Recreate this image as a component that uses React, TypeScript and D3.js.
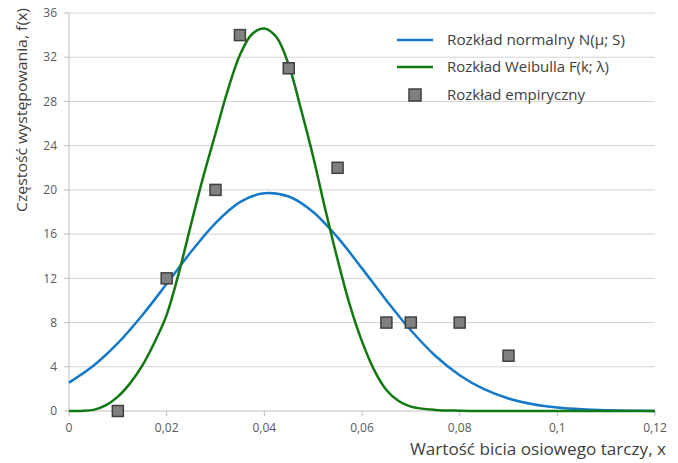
import * as d3 from 'd3';

// x positions (wartość bicia) and frequencies
const normalX = [0, 0.005, 0.01, 0.015, 0.02, 0.025, 0.03, 0.035, 0.04, 0.045, 0.05, 0.055, 0.06,
  0.065, 0.07, 0.075, 0.08, 0.085, 0.09, 0.095, 0.1, 0.105, 0.11, 0.115, 0.12];
const normalY = [2.57, 4.09, 6.13, 8.66, 11.5, 14.4, 17.0, 18.9, 19.7, 19.4, 18.0, 15.7, 12.9,
  10.0, 7.3, 5.0, 3.24, 1.97, 1.13, 0.61, 0.31, 0.15, 0.07, 0.03, 0.01];

const weibullX = [0, 0.0025, 0.005, 0.0075, 0.01, 0.0125, 0.015, 0.0175, 0.02, 0.0225, 0.025, 0.0275,
  0.03, 0.0325, 0.035, 0.0375, 0.04, 0.0425, 0.045, 0.0475, 0.05, 0.0525, 0.055, 0.0575, 0.06,
  0.0625, 0.065, 0.0675, 0.07, 0.075, 0.08, 0.09, 0.1, 0.12];
const weibullY = [0, 0.01, 0.1, 0.5, 1.3, 2.5, 4.1, 6.2, 8.7, 12.5, 16.9, 21.2,
  25.1, 29.0, 32.2, 34.1, 34.6, 33.8, 31.3, 27.3, 23.0, 18.2, 13.7, 9.6, 6.3,
  3.7, 1.9, 0.9, 0.4, 0.1, 0.03, 0, 0, 0];

const empX = [0.01, 0.02, 0.03, 0.035, 0.045, 0.055, 0.065, 0.07, 0.08, 0.09];
const empY = [0, 12, 20, 34, 31, 22, 8, 8, 8, 5];

const xTicks = [0, 0.02, 0.04, 0.06, 0.08, 0.1, 0.12];
const yTicks = [0, 4, 8, 12, 16, 20, 24, 28, 32, 36];

const legendLabels = ['Rozkład normalny N(μ; S)', 'Rozkład Weibulla F(k; λ)', 'Rozkład empiryczny'];

const BLUE = '#1479c9';
const GREEN = '#127812';
const FONT = "'Open Sans', 'Noto Sans', sans-serif";

export default function App() {
  const W = 678, H = 463;
  const m = { l: 69, r: 23, t: 13, b: 52 };
  const x = d3.scaleLinear().domain([0, 0.12]).range([m.l, W - m.r]);
  const y = d3.scaleLinear().domain([0, 36]).range([H - m.b, m.t]);

  const line = d3.line<[number, number]>()
    .x(d => x(d[0])).y(d => Math.min(y(d[1]), y(0)))
    .curve(d3.curveCatmullRom.alpha(0.5));

  const normalPts = normalX.map((v, i) => [v, normalY[i]] as [number, number]);
  const weibullPts = weibullX.map((v, i) => [v, weibullY[i]] as [number, number]);
  const fmt = (v: number) => (v === 0 ? '0' : String(+v.toFixed(2)).replace('.', ','));

  const lgX = 397, lgY = [40, 67, 95];

  return (
    <svg width={W} height={H} style={{ position: 'absolute', left: 0, top: 0, background: '#fff' }}
      fontFamily={FONT}>
      {/* grid */}
      {yTicks.filter(t => t > 0).map(t => (
        <line key={t} x1={x(0)} x2={x(0.12)} y1={y(t)} y2={y(t)} stroke="#d4d4d4" strokeWidth={1} />
      ))}
      {/* axes */}
      <line x1={x(0)} x2={x(0)} y1={y(0)} y2={y(36)} stroke="#bdbdbd" strokeWidth={1} />
      <line x1={x(0)} x2={x(0.12)} y1={y(0)} y2={y(0)} stroke="#bdbdbd" strokeWidth={1} />
      {yTicks.map(t => (
        <g key={t}>
          <line x1={x(0) - 5} x2={x(0)} y1={y(t)} y2={y(t)} stroke="#bdbdbd" />
          <text x={57} y={y(t)} dy="0.35em" textAnchor="end" fontSize={12} fill="#595959">{t}</text>
        </g>
      ))}
      {xTicks.map(t => (
        <g key={t}>
          <line x1={x(t)} x2={x(t)} y1={y(0)} y2={y(0) + 5} stroke="#bdbdbd" />
          <text x={x(t)} y={432} textAnchor="middle" fontSize={12} fill="#595959">{fmt(t)}</text>
        </g>
      ))}

      {/* curves */}
      <path d={line(normalPts) || ''} fill="none" stroke={BLUE} strokeWidth={2.5} />
      <path d={line(weibullPts) || ''} fill="none" stroke={GREEN} strokeWidth={2.5} />

      {/* empirical points */}
      {empX.map((v, i) => (
        <rect key={i} x={x(v) - 5.5} y={y(empY[i]) - 5.5} width={11} height={11}
          fill="#808080" stroke="#3f3f3f" strokeWidth={1.5} />
      ))}

      {/* legend */}
      <line x1={lgX} x2={lgX + 36} y1={lgY[0]} y2={lgY[0]} stroke={BLUE} strokeWidth={2.5} />
      <line x1={lgX} x2={lgX + 36} y1={lgY[1]} y2={lgY[1]} stroke={GREEN} strokeWidth={2.5} />
      <rect x={lgX + 12} y={lgY[2] - 6} width={12} height={12} fill="#808080" stroke="#3f3f3f" strokeWidth={1.5} />
      {legendLabels.map((s, i) => (
        <text key={s} x={447} y={lgY[i]} dy="0.35em" fontSize={14} fill="#404040"
          textLength={[178, 162, 138][i]} lengthAdjust="spacingAndGlyphs">{s}</text>
      ))}

      {/* axis titles */}
      <text x={538} y={455} textAnchor="middle" fontSize={16} fill="#404040"
        textLength={256} lengthAdjust="spacingAndGlyphs">Wartość bicia osiowego tarczy, x</text>
      <text transform="translate(27,110) rotate(-90)" textAnchor="middle" fontSize={15} fill="#404040"
        textLength={204} lengthAdjust="spacingAndGlyphs">Częstość występowania, f(x)</text>
    </svg>
  );
}
